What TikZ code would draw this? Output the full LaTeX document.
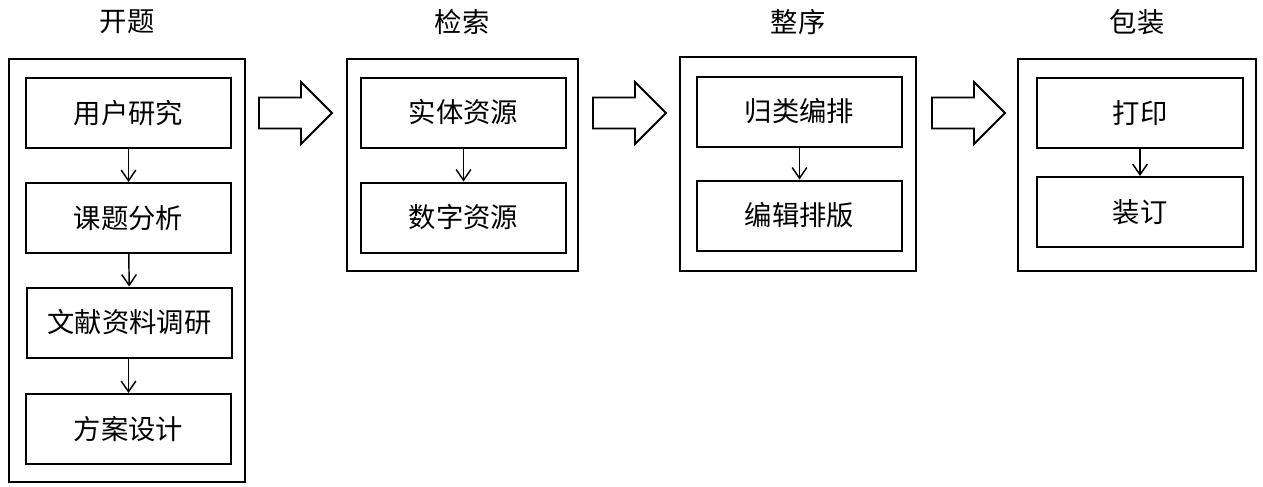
\documentclass[tikz,border=0pt]{standalone}
\usepackage{fontspec}
\setmainfont{Noto Sans CJK SC}
\usetikzlibrary{arrows.meta}
\def\blockarrow(#1,#2){\draw[line width=1.4pt,fill=white] (#1,#2) ++(0,-15.5) -- ++(42,0) -- ++(0,-15.5) -- ++(31,31) -- ++(-31,31) -- ++(0,-15.5) -- ++(-42,0) -- cycle;}

\begin{document}
\begin{tikzpicture}[x=0.75pt,y=-0.75pt,
		stepbox/.style={draw,line width=1.5pt,minimum width=154pt,minimum height=52.5pt,inner sep=0pt,font=\fontsize{20.5}{24}\selectfont},
		title/.style={font=\fontsize{20.5}{24}\selectfont},
		link/.style={line width=1.1pt,-{Straight Barb[length=8pt,width=11pt]}}]
	\useasboundingbox (0,0) rectangle (1263,486);
	%%%%% START %%%%%
	% 开题
	\node[title] (t1) at (127,22) {开题};
	\draw[line width=1.5pt] (9,59) rectangle (245,482);
	\node[stepbox] (a1) at (128.5,113) {用户研究};
	\node[stepbox] (a2) at (128.5,218) {课题分析};
	\node[stepbox] (a3) at (129.5,322.5) {文献资料调研};
	\node[stepbox] (a4) at (128.5,429) {方案设计};
	\draw[link] (a1) -- (a2);
	\draw[link] (a2) -- (a3);
	\draw[link] (a3.south -| a4) -- (a4);
	
	\blockarrow(259,113)
	
	% 检索
	\node[title] (t2) at (462,22) {检索};
	\draw[line width=1.5pt] (347,59) rectangle (578,271);
	\node[stepbox] (b1) at (463.5,112.5) {实体资源};
	\node[stepbox] (b2) at (463.5,217.5) {数字资源};
	\draw[link] (b1) -- (b2);
	
	\blockarrow(593,113)
	
	% 整序
	\node[title] (t3) at (798,22) {整序};
	\draw[line width=1.5pt] (680,57) rectangle (916,271);
	\node[stepbox] (c1) at (799.5,111.5) {归类编排};
	\node[stepbox] (c2) at (799.5,215.5) {编辑排版};
	\draw[link] (c1) -- (c2);
	
	\blockarrow(932,113)
	
	% 包装
	\node[title] (t4) at (1137,22) {包装};
	\draw[line width=1.5pt] (1018,59) rectangle (1256,271);
	\node[stepbox] (d1) at (1140,113) {打印};
	\node[stepbox] (d2) at (1140,212) {装订};
	\draw[link] (d1) -- (d2);
	%%%%% END %%%%%
\end{tikzpicture}
\end{document}
